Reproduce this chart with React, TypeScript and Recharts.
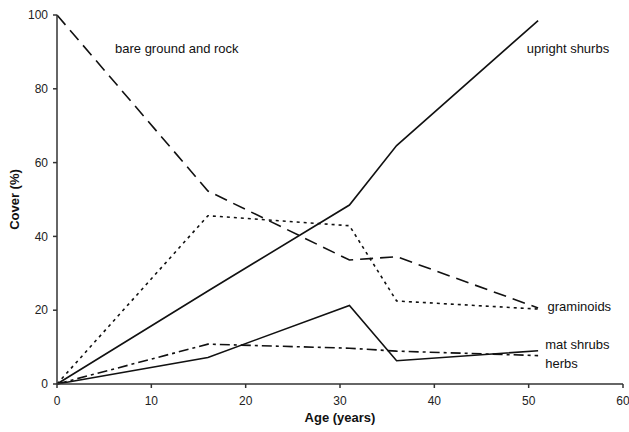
import { Label, Line, LineChart, ReferenceDot, XAxis, YAxis } from "recharts";

const ages = [0, 16, 31, 36, 51];
const bareGround = [100, 52.3, 33.6, 34.5, 20.6];
const uprightShrubs = [0, 25.2, 48.5, 64.6, 98.5];
const graminoids = [0, 45.6, 42.9, 22.5, 20.3];
const matShrubs = [0, 7.2, 21.3, 6.3, 9.0];
const herbs = [0, 10.8, 9.7, 8.9, 7.7];

const xTicks = [0, 10, 20, 30, 40, 50, 60];
const yTicks = [0, 20, 40, 60, 80, 100];

// series name labels, anchored in data units
const seriesLabels = [
  { text: "bare ground and rock", x: 12.7, y: 91, pos: "center" },
  { text: "upright shurbs", x: 49.8, y: 91, pos: "right" },
  { text: "graminoids", x: 52, y: 20.9, pos: "right" },
  { text: "mat shrubs", x: 51.75, y: 10.8, pos: "right" },
  { text: "herbs", x: 51.75, y: 5.7, pos: "right" },
];

const data = ages.map((age, i) => ({
  age,
  bare: bareGround[i],
  upright: uprightShrubs[i],
  gram: graminoids[i],
  mat: matShrubs[i],
  herbs: herbs[i],
}));

const ink = "#111";
const axisColor = "#333";

export default function App() {
  return (
    <div
      style={{
        position: "absolute",
        left: 0,
        top: 0,
        width: 629,
        height: 432,
        background: "#fff",
        fontFamily: "'Liberation Sans', Arial, sans-serif",
      }}
    >
      <LineChart width={629} height={432} data={data} margin={{ top: 15, right: 6, bottom: 0, left: 0 }}>
        <XAxis
          dataKey="age"
          type="number"
          domain={[0, 60]}
          ticks={xTicks}
          height={48}
          tickSize={4}
          tickMargin={8}
          stroke={axisColor}
          strokeWidth={1.5}
          tick={{ fill: "#222", fontSize: 12 }}
        >
          <Label
            value="Age (years)"
            position="insideBottom"
            offset={10}
            style={{ fontWeight: "bold", fontSize: 13, fill: ink }}
          />
        </XAxis>
        <YAxis
          type="number"
          domain={[0, 100]}
          ticks={yTicks}
          width={57}
          tickSize={4}
          tickMargin={5}
          stroke={axisColor}
          strokeWidth={1.5}
          tick={{ fill: "#222", fontSize: 12 }}
        >
          <Label
            value="Cover (%)"
            angle={-90}
            position="insideLeft"
            offset={14}
            style={{ fontWeight: "bold", fontSize: 13, fill: ink, textAnchor: "middle" }}
          />
        </YAxis>
        <Line
          type="linear"
          dataKey="bare"
          stroke={ink}
          strokeWidth={1.6}
          strokeDasharray="13 7"
          dot={false}
          isAnimationActive={false}
        />
        <Line type="linear" dataKey="upright" stroke={ink} strokeWidth={1.6} dot={false} isAnimationActive={false} />
        <Line
          type="linear"
          dataKey="gram"
          stroke={ink}
          strokeWidth={1.6}
          strokeDasharray="3 4"
          dot={false}
          isAnimationActive={false}
        />
        <Line type="linear" dataKey="mat" stroke={ink} strokeWidth={1.6} dot={false} isAnimationActive={false} />
        <Line
          type="linear"
          dataKey="herbs"
          stroke={ink}
          strokeWidth={1.6}
          strokeDasharray="10 4 3 4"
          dot={false}
          isAnimationActive={false}
        />
        {seriesLabels.map((l) => (
          <ReferenceDot
            key={l.text}
            x={l.x}
            y={l.y}
            r={0}
            fill="none"
            stroke="none"
            ifOverflow="visible"
            label={{ value: l.text, position: l.pos as any, offset: 0, fill: ink, fontSize: 13 }}
          />
        ))}
      </LineChart>
    </div>
  );
}
